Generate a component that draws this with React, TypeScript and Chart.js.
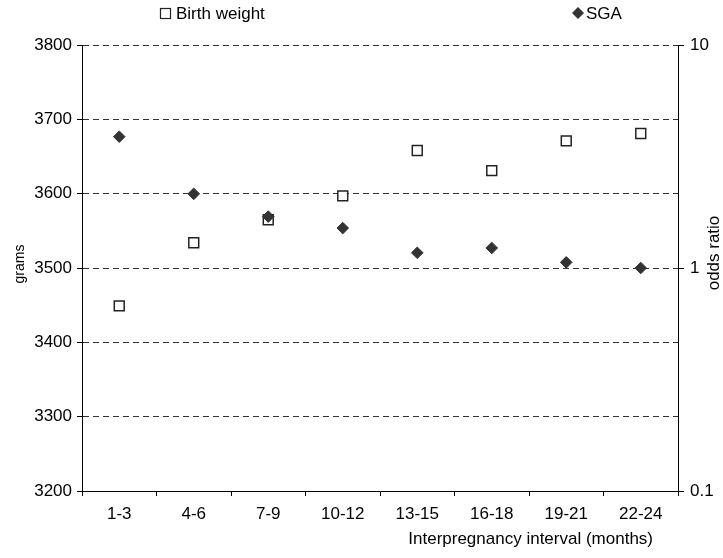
import { useEffect, useRef } from 'react';
import { Chart, registerables } from 'chart.js';

Chart.register(...registerables);

const categories = ['1-3', '4-6', '7-9', '10-12', '13-15', '16-18', '19-21', '22-24'];
const birthWeight = [3449, 3534, 3565, 3597, 3658, 3631, 3671, 3681];
const sgaOddsRatio = [3.88, 2.15, 1.7, 1.51, 1.17, 1.23, 1.06, 1.0];
const gramTicks = [3200, 3300, 3400, 3500, 3600, 3700, 3800];
const oddsTicks = [0.1, 1, 10];
const seriesNames = ['Birth weight', 'SGA'];
const xTitle = 'Interpregnancy interval (months)';
const yTitle = 'grams';
const y2Title = 'odds ratio';

const W = 723;
const H = 558;
const FAMILY = '"Liberation Sans", Arial, sans-serif';
const FS = 17;

const annotations = {
  id: 'annotations',
  afterDraw(chart: any) {
    const ctx = chart.ctx as CanvasRenderingContext2D;
    ctx.save();
    ctx.fillStyle = '#000';
    ctx.font = `${FS}px ${FAMILY}`;
    ctx.textBaseline = 'middle';

    ctx.textAlign = 'right';
    ctx.fillText(xTitle, 653, 539);

    ctx.textAlign = 'center';
    ctx.save();
    ctx.translate(714, 253);
    ctx.rotate(-Math.PI / 2);
    ctx.fillText(y2Title, 0, 0);
    ctx.restore();

    ctx.save();
    ctx.font = `14px ${FAMILY}`;
    ctx.translate(20, 264);
    ctx.rotate(-Math.PI / 2);
    ctx.fillText(yTitle, 0, 0);
    ctx.restore();

    // legend
    const ly = 13;
    ctx.textAlign = 'left';
    ctx.fillStyle = '#fff';
    ctx.strokeStyle = '#222';
    ctx.lineWidth = 1.2;
    ctx.fillRect(160, ly - 5, 11, 11);
    ctx.strokeRect(160.5, ly - 4.5, 10, 10);
    ctx.fillStyle = '#000';
    ctx.fillText(seriesNames[0], 176, ly + 1);
    ctx.fillStyle = '#333';
    ctx.beginPath();
    ctx.moveTo(578, ly - 6);
    ctx.lineTo(584, ly);
    ctx.lineTo(578, ly + 6);
    ctx.lineTo(572, ly);
    ctx.closePath();
    ctx.fill();
    ctx.fillStyle = '#000';
    ctx.fillText(seriesNames[1], 586, ly + 1);
    ctx.restore();
  },
};

export default function App() {
  const ref = useRef<HTMLCanvasElement | null>(null);

  useEffect(() => {
    document.body.style.margin = '0';
    document.body.style.overflow = 'hidden';
    const canvas = ref.current;
    if (!canvas) return;
    const font = { family: FAMILY, size: FS };
    const chart = new Chart(canvas, {
      type: 'line',
      data: {
        labels: categories,
        datasets: [
          {
            label: seriesNames[1],
            data: sgaOddsRatio,
            yAxisID: 'y2',
            showLine: false,
            pointStyle: 'rectRot',
            pointRadius: 5.8,
            pointHoverRadius: 5.8,
            backgroundColor: '#333',
            borderColor: '#333',
            borderWidth: 1,
            order: 0,
          },
          {
            label: seriesNames[0],
            data: birthWeight,
            yAxisID: 'y',
            showLine: false,
            pointStyle: 'rect',
            pointRadius: 7,
            pointHoverRadius: 7,
            backgroundColor: '#fff',
            borderColor: '#222',
            borderWidth: 1.5,
            order: 1,
          },
        ],
      },
      options: {
        responsive: false,
        animation: false,
        devicePixelRatio: 1,
        layout: { padding: { top: 45, left: 0, right: 0, bottom: 0 } },
        plugins: {
          legend: { display: false },
          tooltip: { enabled: false },
          title: { display: false },
        },
        scales: {
          x: {
            type: 'category',
            offset: true,
            grid: {
              display: true,
              drawOnChartArea: false,
              drawTicks: true,
              tickLength: 5,
              offset: true,
              color: '#000',
              tickColor: '#000',
            },
            border: { display: true, color: '#000', width: 1 },
            ticks: { color: '#000', font, padding: 8, maxRotation: 0, autoSkip: false },
            afterFit: (s: any) => {
              s.height = 67;
            },
          },
          y: {
            type: 'linear',
            position: 'left',
            min: 3200,
            max: 3800,
            afterBuildTicks: (s: any) => {
              s.ticks = gramTicks.map((v) => ({ value: v }));
            },
            grid: {
              color: '#333',
              tickColor: '#000',
              tickLength: 5,
              tickBorderDash: [],
              drawOnChartArea: true,
            },
            border: { display: true, color: '#000', width: 1, dash: [6, 4] },
            ticks: { color: '#000', font, padding: 5, callback: (v: any) => String(v) },
            afterFit: (s: any) => {
              s.width = 82;
            },
          },
          y2: {
            type: 'logarithmic',
            position: 'right',
            min: 0.1,
            max: 10,
            afterBuildTicks: (s: any) => {
              s.ticks = oddsTicks.map((v) => ({ value: v }));
            },
            grid: {
              drawOnChartArea: false,
              color: '#000',
              tickColor: '#000',
              tickLength: 6,
            },
            border: { display: true, color: '#000', width: 1 },
            ticks: {
              color: '#000',
              font,
              padding: 6,
              callback: (v: any) => String(v),
            },
            afterFit: (s: any) => {
              s.width = W - 678;
            },
          },
        },
      },
      plugins: [annotations],
    });
    return () => chart.destroy();
  }, []);

  return (
    <div style={{ width: W, height: H }}>
      <canvas ref={ref} width={W} height={H} style={{ display: 'block' }} />
    </div>
  );
}
